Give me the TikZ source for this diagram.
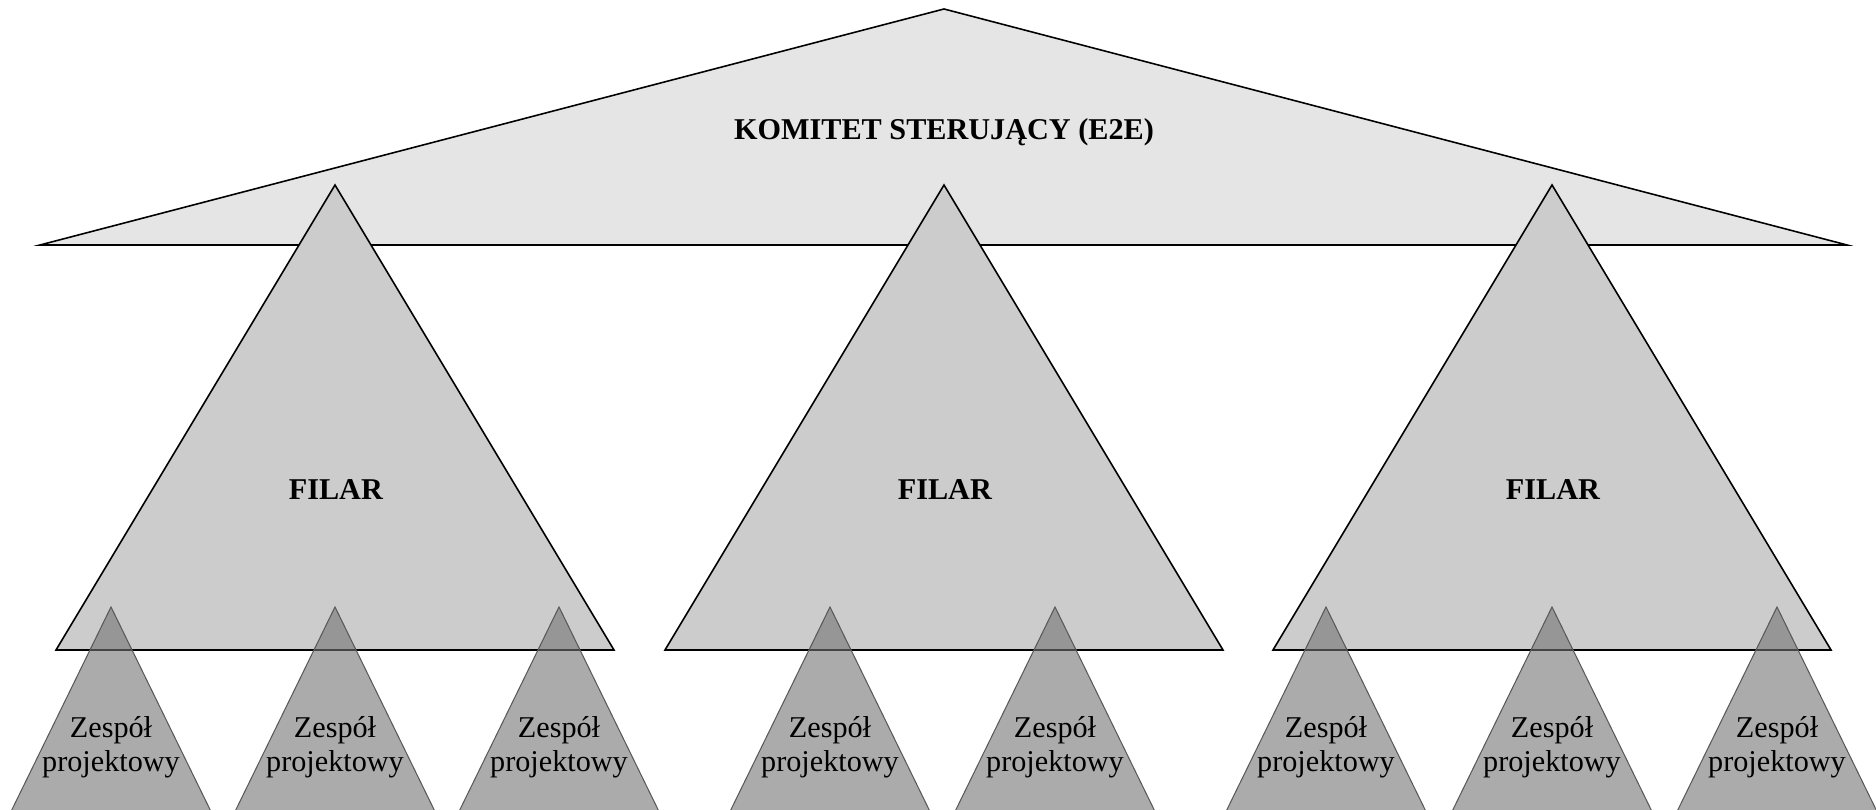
\documentclass[tikz,border=0pt]{standalone}
\usepackage{fontspec}
\setmainfont{Liberation Serif}
\begin{document}
\begin{tikzpicture}[x=0.02cm,y=0.02cm,line width=0.9pt,
  txt/.style={font=\fontsize{17.2}{19.6}\selectfont,align=center,inner sep=0pt},
  team/.style={fill=black!55,fill opacity=0.6,draw=black!65,line width=0.6pt}]
  \clip (0,0) rectangle (1876,810);

  % Steering committee on top
  \filldraw[fill=black!10] (40,565) -- (944,801) -- (1847,565) -- cycle;
  \node[txt] (komitet) at (944,678) {\textbf{KOMITET STERUJĄCY (E2E)}};

  % Three pillars
  \filldraw[fill=black!20] (56,160) -- (335,625) -- (614,160) -- cycle;
  \filldraw[fill=black!20] (665,160) -- (944,625) -- (1223,160) -- cycle;
  \filldraw[fill=black!20] (1273,160) -- (1552,625) -- (1831,160) -- cycle;
  \node[txt] (filar1) at (336,320) {\textbf{FILAR}};
  \node[txt] (filar2) at (945,320) {\textbf{FILAR}};
  \node[txt] (filar3) at (1553,320) {\textbf{FILAR}};

  % Project teams (see-through, base runs off the bottom)
  \foreach \x/\n in {111/1,335/2,559/3,830/4,1055/5,1326/6,1552/7,1777/8} {
    \filldraw[team] (\x-109,-20) -- (\x,203) -- (\x+109,-20) -- cycle;
    \node[txt] (zespol\n) at (\x,63) {Zespół\\projektowy};
  }
\end{tikzpicture}
\end{document}
